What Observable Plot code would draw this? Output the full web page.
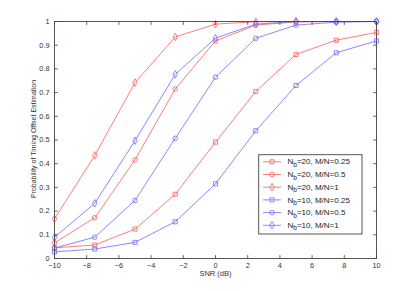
<!DOCTYPE html>
<html>
<head>
<meta charset="utf-8">
<script src="https://cdn.jsdelivr.net/npm/d3@7"></script>
<script src="https://cdn.jsdelivr.net/npm/@observablehq/plot@0.6"></script>
<style>
html,body{margin:0;padding:0;background:#fff;}
</style>
</head>
<body>
<div id="chart"></div>
<script>
const snr = [-10, -7.5, -5, -2.5, 0, 2.5, 5, 7.5, 10];
const nb20_025 = [0.045, 0.057, 0.124, 0.271, 0.491, 0.705, 0.861, 0.921, 0.954];
const nb20_05  = [0.066, 0.172, 0.416, 0.715, 0.918, 0.985, 0.998, 1, 1];
const nb20_1   = [0.167, 0.435, 0.742, 0.935, 0.989, 0.999, 1, 1, 1];
const nb10_025 = [0.028, 0.040, 0.068, 0.155, 0.315, 0.539, 0.730, 0.868, 0.918];
const nb10_05  = [0.044, 0.090, 0.245, 0.507, 0.765, 0.929, 0.985, 0.997, 1];
const nb10_1   = [0.089, 0.233, 0.497, 0.777, 0.930, 0.989, 1, 1, 1];

const seriesNames = ["=20, M/N=0.25", "=20, M/N=0.5", "=20, M/N=1", "=10, M/N=0.25", "=10, M/N=0.5", "=10, M/N=1"];
const seriesValues = [nb20_025, nb20_05, nb20_1, nb10_025, nb10_05, nb10_1];
const seriesColors = ["#ff5c5c", "#ff5c5c", "#ff5c5c", "#6b6bff", "#6b6bff", "#6b6bff"];
const seriesSymbols = ["square", "circle", "diamond", "square", "circle", "diamond"];

const xTicks = [-10, -8, -6, -4, -2, 0, 2, 4, 6, 8, 10];
const yTicks = [0, 0.1, 0.2, 0.3, 0.4, 0.5, 0.6, 0.7, 0.8, 0.9, 1];
const xLabel = "SNR (dB)";
const yLabel = "Probability of Timing Offset Estimation";

const rows = [];
seriesValues.forEach((vals, s) => vals.forEach((v, i) => rows.push({s, x: snr[i], y: v})));

const tickShape = {draw(context, l) { context.moveTo(0, 0); context.lineTo(0, -l); }};
const tickStyle = {length: 3, anchor: "start", shape: tickShape, stroke: "#444", strokeWidth: 0.8};

const marks = [];
seriesValues.forEach((vals, s) => {
  const d = rows.filter(r => r.s === s);
  marks.push(Plot.line(d, {x: "x", y: "y", stroke: seriesColors[s], strokeWidth: 0.8}));
  marks.push(Plot.dot(d, {x: "x", y: "y", stroke: seriesColors[s], symbol: () => seriesSymbols[s], r: 2.3, strokeWidth: 0.8, fill: "none"}));
});

const fmtX = d => d < 0 ? "\u2212" + (-d) : String(d);
const fmtY = d => String(+d.toFixed(1));

const plot = Plot.plot({
  width: 415,
  height: 291,
  marginLeft: 54,
  marginRight: 39,
  marginTop: 21,
  marginBottom: 33,
  x: {domain: [-10, 10]},
  y: {domain: [0, 1]},
  symbol: {type: "identity"},
  style: {fontFamily: "'Liberation Sans', Arial, sans-serif", fontSize: "7px", background: "#fff", color: "#333"},
  marks: [
    ...marks,
    Plot.frame({stroke: "#444", strokeWidth: 0.9}),
    Plot.vector(xTicks, {x: d => d, frameAnchor: "bottom", rotate: 0, ...tickStyle}),
    Plot.vector(xTicks, {x: d => d, frameAnchor: "top", rotate: 180, ...tickStyle}),
    Plot.vector(yTicks, {y: d => d, frameAnchor: "left", rotate: 90, ...tickStyle}),
    Plot.vector(yTicks, {y: d => d, frameAnchor: "right", rotate: -90, ...tickStyle}),
    Plot.axisX(xTicks, {tickSize: 0, tickPadding: 4, tickFormat: fmtX, label: null, fill: "#333", fontSize: 7.3}),
    Plot.axisY(yTicks, {tickSize: 0, tickPadding: 5, tickFormat: fmtY, label: null, fill: "#333", fontSize: 7.3}),
    Plot.text([xLabel], {frameAnchor: "bottom", dy: 15.5, lineAnchor: "middle", fontSize: 7.5, fill: "#333"})
  ]
});

document.getElementById("chart").appendChild(plot);

const svg = d3.select(plot);
const font = "'Liberation Sans', Arial, sans-serif";

// Y axis title
svg.append("text")
  .attr("transform", `translate(34,139) rotate(-90)`)
  .attr("text-anchor", "middle")
  .attr("dominant-baseline", "middle")
  .attr("font-family", font).attr("font-size", 7).attr("fill", "#333")
  .text(yLabel);

// Legend
const lg = svg.append("g").attr("font-family", font).attr("font-size", 8).attr("fill", "#222").attr("text-anchor", "start");
const lx = 258.7, ly = 154.7, lw = 103.3, lh = 79.3;
lg.append("rect").attr("x", lx).attr("y", ly).attr("width", lw).attr("height", lh).attr("fill", "#fff").attr("stroke", "#444").attr("stroke-width", 0.9);
const symGen = {square: d3.symbolSquare, circle: d3.symbolCircle, diamond: d3.symbolDiamond};
seriesNames.forEach((name, i) => {
  const cy = 161.8 + i * 12.7;
  lg.append("line").attr("x1", 263).attr("x2", 281).attr("y1", cy).attr("y2", cy).attr("stroke", seriesColors[i]).attr("stroke-width", 0.8);
  lg.append("path").attr("d", d3.symbol(symGen[seriesSymbols[i]], Math.PI * 2.3 * 2.3)()).attr("transform", `translate(272,${cy})`).attr("fill", "none").attr("stroke", seriesColors[i]).attr("stroke-width", 0.8);
  const t = lg.append("text").attr("x", 287.5).attr("y", cy + 2.6).attr("text-anchor", "start");
  t.append("tspan").text("N");
  t.append("tspan").attr("dy", 2.5).attr("font-size", 6.5).text("b");
  t.append("tspan").attr("dy", -2.5).text(name);
});
</script>
</body>
</html>
